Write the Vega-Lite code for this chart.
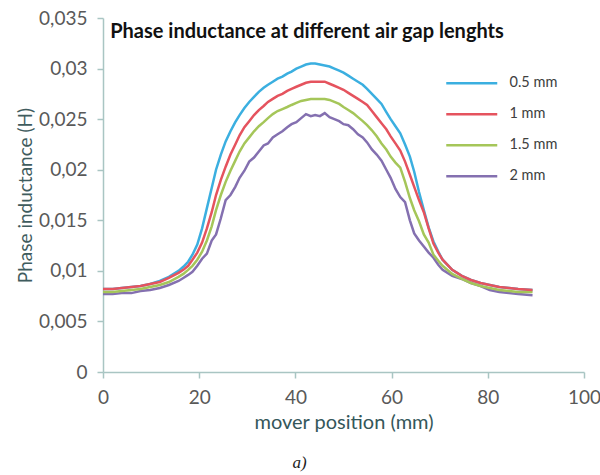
{
  "$schema": "https://vega.github.io/schema/vega-lite/v6.json",
  "width": 481,
  "height": 354,
  "autosize": {"type": "none"},
  "padding": {"left": 103, "top": 18, "right": 16, "bottom": 103},
  "background": "white",
  "config": {"view": {"stroke": null}, "font": "Lato"},
  "title": {"text": "a)", "orient": "bottom", "anchor": "middle", "dx": -44, "offset": 23, "font": "Liberation Serif", "fontStyle": "italic", "fontWeight": "normal", "fontSize": 17, "color": "#222222"},
  "layer": [
    {
      "data": {
        "values": [
          {"x": 0, "a": 0.0082, "b": 0.0082, "c": 0.0079, "d": 0.0077},
          {"x": 2.0, "a": 0.0082, "b": 0.0082, "c": 0.0079, "d": 0.0077},
          {"x": 3.9, "a": 0.0083, "b": 0.0083, "c": 0.0080, "d": 0.0078},
          {"x": 5.9, "a": 0.0084, "b": 0.0084, "c": 0.0081, "d": 0.0078},
          {"x": 7.8, "a": 0.0085, "b": 0.0085, "c": 0.0082, "d": 0.0080},
          {"x": 9.8, "a": 0.0087, "b": 0.0087, "c": 0.0084, "d": 0.0081},
          {"x": 11.8, "a": 0.0090, "b": 0.0089, "c": 0.0086, "d": 0.0083},
          {"x": 13.7, "a": 0.0094, "b": 0.0093, "c": 0.0089, "d": 0.0086},
          {"x": 15.7, "a": 0.0100, "b": 0.0098, "c": 0.0094, "d": 0.0090},
          {"x": 16.7, "a": 0.0104, "b": 0.0101, "c": 0.0097, "d": 0.0093},
          {"x": 17.7, "a": 0.0109, "b": 0.0105, "c": 0.0101, "d": 0.0096},
          {"x": 18.6, "a": 0.0116, "b": 0.0111, "c": 0.0105, "d": 0.0099},
          {"x": 19.6, "a": 0.0126, "b": 0.0118, "c": 0.0111, "d": 0.0105},
          {"x": 20.6, "a": 0.0142, "b": 0.0128, "c": 0.0119, "d": 0.0112},
          {"x": 21.6, "a": 0.0162, "b": 0.0142, "c": 0.0130, "d": 0.0117},
          {"x": 22.6, "a": 0.0182, "b": 0.0158, "c": 0.0144, "d": 0.0130},
          {"x": 23.5, "a": 0.0200, "b": 0.0175, "c": 0.0160, "d": 0.0136},
          {"x": 24.5, "a": 0.0215, "b": 0.0190, "c": 0.0175, "d": 0.0152},
          {"x": 25.5, "a": 0.0228, "b": 0.0203, "c": 0.0188, "d": 0.0170},
          {"x": 26.5, "a": 0.0238, "b": 0.0215, "c": 0.0199, "d": 0.0175},
          {"x": 27.5, "a": 0.0247, "b": 0.0225, "c": 0.0209, "d": 0.0183},
          {"x": 28.4, "a": 0.0254, "b": 0.0234, "c": 0.0218, "d": 0.0192},
          {"x": 29.4, "a": 0.0261, "b": 0.0242, "c": 0.0226, "d": 0.0199},
          {"x": 30.4, "a": 0.0267, "b": 0.0248, "c": 0.0232, "d": 0.0208},
          {"x": 31.4, "a": 0.0272, "b": 0.0254, "c": 0.0238, "d": 0.0212},
          {"x": 32.4, "a": 0.0277, "b": 0.0259, "c": 0.0243, "d": 0.0218},
          {"x": 33.4, "a": 0.0281, "b": 0.0263, "c": 0.0247, "d": 0.0224},
          {"x": 34.3, "a": 0.0284, "b": 0.0267, "c": 0.0251, "d": 0.0226},
          {"x": 35.3, "a": 0.0287, "b": 0.0270, "c": 0.0255, "d": 0.0232},
          {"x": 36.3, "a": 0.0290, "b": 0.0273, "c": 0.0258, "d": 0.0235},
          {"x": 37.3, "a": 0.0292, "b": 0.0275, "c": 0.0260, "d": 0.0238},
          {"x": 38.3, "a": 0.0295, "b": 0.0278, "c": 0.0262, "d": 0.0242},
          {"x": 39.2, "a": 0.0297, "b": 0.0280, "c": 0.0264, "d": 0.0245},
          {"x": 40.2, "a": 0.0300, "b": 0.0282, "c": 0.0266, "d": 0.0247},
          {"x": 41.2, "a": 0.0302, "b": 0.0284, "c": 0.0268, "d": 0.0251},
          {"x": 42.2, "a": 0.0304, "b": 0.0286, "c": 0.0269, "d": 0.0255},
          {"x": 43.2, "a": 0.0305, "b": 0.0287, "c": 0.0270, "d": 0.0253},
          {"x": 44.1, "a": 0.0305, "b": 0.0287, "c": 0.0270, "d": 0.0254},
          {"x": 45.1, "a": 0.0304, "b": 0.0287, "c": 0.0270, "d": 0.0253},
          {"x": 46.1, "a": 0.0303, "b": 0.0287, "c": 0.0270, "d": 0.0256},
          {"x": 47.1, "a": 0.0302, "b": 0.0285, "c": 0.0269, "d": 0.0252},
          {"x": 48.1, "a": 0.0300, "b": 0.0283, "c": 0.0267, "d": 0.0250},
          {"x": 49.1, "a": 0.0298, "b": 0.0281, "c": 0.0265, "d": 0.0248},
          {"x": 50.0, "a": 0.0296, "b": 0.0279, "c": 0.0262, "d": 0.0245},
          {"x": 51.0, "a": 0.0293, "b": 0.0276, "c": 0.0259, "d": 0.0244},
          {"x": 52.0, "a": 0.0290, "b": 0.0273, "c": 0.0256, "d": 0.0240},
          {"x": 53.0, "a": 0.0287, "b": 0.0270, "c": 0.0252, "d": 0.0235},
          {"x": 54.0, "a": 0.0284, "b": 0.0267, "c": 0.0248, "d": 0.0232},
          {"x": 54.9, "a": 0.0280, "b": 0.0264, "c": 0.0244, "d": 0.0227},
          {"x": 55.9, "a": 0.0275, "b": 0.0258, "c": 0.0239, "d": 0.0220},
          {"x": 56.9, "a": 0.0270, "b": 0.0252, "c": 0.0233, "d": 0.0215},
          {"x": 57.9, "a": 0.0265, "b": 0.0246, "c": 0.0226, "d": 0.0209},
          {"x": 58.9, "a": 0.0257, "b": 0.0240, "c": 0.0220, "d": 0.0200},
          {"x": 59.8, "a": 0.0250, "b": 0.0233, "c": 0.0213, "d": 0.0192},
          {"x": 60.8, "a": 0.0243, "b": 0.0226, "c": 0.0207, "d": 0.0181},
          {"x": 61.8, "a": 0.0236, "b": 0.0219, "c": 0.0202, "d": 0.0173},
          {"x": 62.8, "a": 0.0225, "b": 0.0208, "c": 0.0188, "d": 0.0168},
          {"x": 63.8, "a": 0.0213, "b": 0.0195, "c": 0.0172, "d": 0.0150},
          {"x": 64.7, "a": 0.0198, "b": 0.0183, "c": 0.0160, "d": 0.0137},
          {"x": 65.7, "a": 0.0178, "b": 0.0170, "c": 0.0149, "d": 0.0130},
          {"x": 66.7, "a": 0.0160, "b": 0.0158, "c": 0.0136, "d": 0.0124},
          {"x": 67.7, "a": 0.0143, "b": 0.0142, "c": 0.0128, "d": 0.0118},
          {"x": 68.7, "a": 0.0129, "b": 0.0127, "c": 0.0116, "d": 0.0113},
          {"x": 69.7, "a": 0.0119, "b": 0.0118, "c": 0.0110, "d": 0.0106},
          {"x": 70.6, "a": 0.0111, "b": 0.0111, "c": 0.0105, "d": 0.0101},
          {"x": 72.6, "a": 0.0101, "b": 0.0101, "c": 0.0097, "d": 0.0095},
          {"x": 74.6, "a": 0.0095, "b": 0.0095, "c": 0.0092, "d": 0.0092},
          {"x": 76.5, "a": 0.0091, "b": 0.0091, "c": 0.0088, "d": 0.0088},
          {"x": 78.5, "a": 0.0088, "b": 0.0088, "c": 0.0085, "d": 0.0085},
          {"x": 80.4, "a": 0.0086, "b": 0.0086, "c": 0.0083, "d": 0.0081},
          {"x": 82.4, "a": 0.0084, "b": 0.0084, "c": 0.0081, "d": 0.0079},
          {"x": 84.4, "a": 0.0083, "b": 0.0083, "c": 0.0080, "d": 0.0078},
          {"x": 86.3, "a": 0.0082, "b": 0.0082, "c": 0.0079, "d": 0.0077},
          {"x": 89.3, "a": 0.0081, "b": 0.0081, "c": 0.0079, "d": 0.0076}
        ]
      },
      "transform": [{"fold": ["a", "d", "c", "b"], "as": ["gap", "L"]}],
      "mark": {"type": "line", "strokeWidth": 2.5},
      "encoding": {
        "x": {
          "field": "x", "type": "quantitative",
          "scale": {"domain": [0, 100], "nice": false, "zero": false},
          "axis": {
            "values": [0, 20, 40, 60, 80, 100],
            "title": "mover position  (mm)",
            "grid": false,
            "domainColor": "#A9C5C3", "domainWidth": 1.5,
            "tickColor": "#A9C5C3", "tickSize": 6, "tickWidth": 1.5,
            "labelFont": "Lato", "labelFontSize": 19, "labelColor": "#595959", "labelPadding": 10,
            "labelFlush": false, "labelOverlap": false,
            "titleFont": "Lato", "titleFontSize": 20, "titleFontWeight": "normal", "titleColor": "#34575A", "titlePadding": 5
          }
        },
        "y": {
          "field": "L", "type": "quantitative",
          "scale": {"domain": [0, 0.035], "nice": false},
          "axis": {
            "values": [0, 0.005, 0.01, 0.015, 0.02, 0.025, 0.03, 0.035],
            "labelExpr": "replace(toString(datum.value), '.', ',')",
            "title": "Phase inductance (H)",
            "grid": false,
            "domainColor": "#A9C5C3", "domainWidth": 1.5,
            "tickColor": "#A9C5C3", "tickSize": 6, "tickWidth": 1.5,
            "labelFont": "Lato", "labelFontSize": 19, "labelColor": "#595959", "labelPadding": 10,
            "labelFlush": false, "labelOverlap": false,
            "titleFont": "Lato", "titleFontSize": 19, "titleFontWeight": "normal", "titleColor": "#3F5C5E", "titlePadding": 3
          }
        },
        "color": {
          "field": "gap", "type": "nominal",
          "scale": {"domain": ["a", "b", "c", "d"], "range": ["#3BAFE0", "#E5535E", "#A5C659", "#8470B0"]},
          "legend": {
            "orient": "none", "legendX": 361.5, "legendY": 58,
            "title": null,
            "symbolType": "M-25.5,0H25.5", "symbolSize": 4, "symbolStrokeWidth": 2.5,
            "labelFont": "Lato", "labelFontSize": 14.5, "labelColor": "#404040", "labelOffset": 30.5,
            "rowPadding": 16,
            "labelExpr": "datum.label == 'a' ? '0.5 mm' : datum.label == 'b' ? '1 mm' : datum.label == 'c' ? '1.5 mm' : '2 mm'"
          }
        }
      }
    },
    {
      "data": {"values": [{"t": "Phase inductance at different air gap lenghts"}]},
      "mark": {"type": "text", "align": "left", "baseline": "middle", "font": "Lato", "fontWeight": "bold", "fontSize": 20, "color": "#111111"},
      "encoding": {
        "x": {"datum": 1.5, "type": "quantitative"},
        "y": {"datum": 0.0336, "type": "quantitative"},
        "text": {"field": "t"}
      }
    }
  ]
}
